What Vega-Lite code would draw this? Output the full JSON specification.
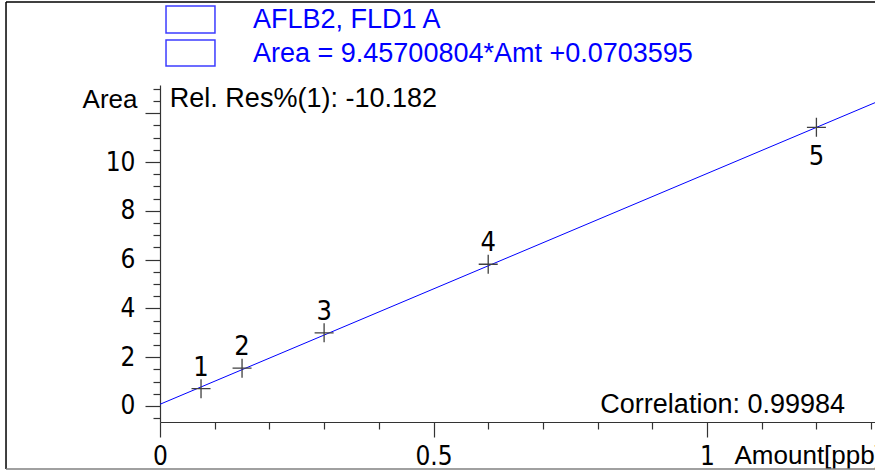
{
  "$schema": "https://vega.github.io/schema/vega-lite/v6.json",
  "width": 715,
  "height": 337,
  "autosize": {"type": "none"},
  "padding": {"left": 160, "top": 85, "right": 0, "bottom": 50},
  "background": "white",
  "config": {"view": {"stroke": null}, "font": "Liberation Sans"},
  "resolve": {"axis": {"x": "independent", "y": "independent"}},
  "datasets": {
    "points": [
      {"amt": 0.075, "area": 0.71, "label": "1"},
      {"amt": 0.15, "area": 1.55, "label": "2"},
      {"amt": 0.3, "area": 3.0, "label": "3"},
      {"amt": 0.6, "area": 5.81, "label": "4"},
      {"amt": 1.2, "area": 11.42, "label": "5"}
    ],
    "fit": [
      {"amt": 0, "area": 0.0703595},
      {"amt": 1.3071, "area": 12.4317}
    ]
  },
  "layer": [
    {
      "data": {"name": "fit"},
      "mark": {"type": "line", "color": "#0000ff", "strokeWidth": 1, "clip": true},
      "encoding": {
        "x": {
          "field": "amt", "type": "quantitative",
          "scale": {"domain": [0, 1.3071], "nice": false, "zero": false},
          "axis": {
            "orient": "bottom",
            "values": [0, 0.5, 1],
            "format": "~g",
            "grid": false,
            "domainColor": "#333333", "domainWidth": 1.2,
            "tickColor": "#333333", "tickWidth": 1.2, "tickSize": 15,
            "labelFont": "DejaVu Sans Condensed, DejaVu Sans",
            "labelFontSize": 26, "labelColor": "black",
            "labelPadding": 6, "labelFlush": false, "labelOverlap": false,
            "title": "Amount[ppb]", "titleFont": "Liberation Sans", "titleFontSize": 26,
            "titleFontWeight": "normal", "titleColor": "black",
            "titleX": 574, "titleY": 41, "titleAlign": "left", "titleBaseline": "alphabetic", "titleAnchor": null
          }
        },
        "y": {
          "field": "area", "type": "quantitative",
          "scale": {"domain": [-0.656, 13.156], "nice": false, "zero": false},
          "axis": {
            "orient": "left",
            "values": [0, 2, 4, 6, 8, 10, 12],
            "grid": false,
            "domainColor": "#333333", "domainWidth": 1.2,
            "tickColor": "#333333", "tickWidth": 1.2, "tickSize": 15,
            "labelExpr": "datum.value <= 10 ? datum.label : ''",
            "labelFont": "DejaVu Sans Condensed, DejaVu Sans",
            "labelFontSize": 26, "labelColor": "black",
            "labelPadding": 10, "labelFlush": false, "labelOverlap": false,
            "title": "Area", "titleFont": "Liberation Sans", "titleFontSize": 26,
            "titleFontWeight": "normal", "titleColor": "black", "titleAngle": 0,
            "titleX": -23, "titleY": 22, "titleAlign": "right", "titleBaseline": "alphabetic", "titleAnchor": null
          }
        }
      }
    },
    {
      "data": {"name": "points"},
      "mark": {"type": "point", "shape": "M-1,0L1,0M0,-1L0,1", "size": 361, "filled": false, "stroke": "#404040", "strokeWidth": 1.3, "opacity": 1},
      "encoding": {
        "x": {
          "field": "amt", "type": "quantitative",
          "axis": {
            "orient": "bottom",
            "values": [0.1, 0.2, 0.3, 0.4, 0.6, 0.7, 0.8, 0.9, 1.1, 1.2, 1.3],
            "grid": false, "domain": false, "labels": false, "title": null,
            "tickColor": "#333333", "tickWidth": 1.2, "tickSize": 7
          }
        },
        "y": {
          "field": "area", "type": "quantitative",
          "axis": {
            "orient": "left",
            "values": [-0.5, 0.5, 1, 1.5, 2.5, 3, 3.5, 4.5, 5, 5.5, 6.5, 7, 7.5, 8.5, 9, 9.5, 10.5, 11, 11.5, 12.5, 13],
            "grid": false, "domain": false, "labels": false, "title": null,
            "tickColor": "#333333", "tickWidth": 1.2, "tickSize": 7
          }
        }
      }
    },
    {
      "data": {"name": "points"},
      "transform": [{"filter": "datum.label != '5'"}],
      "mark": {"type": "text", "font": "DejaVu Sans Condensed, DejaVu Sans", "fontSize": 27, "color": "black", "align": "center", "baseline": "alphabetic", "dy": -13},
      "encoding": {
        "x": {"field": "amt", "type": "quantitative", "axis": null},
        "y": {"field": "area", "type": "quantitative", "axis": null},
        "text": {"field": "label"}
      }
    },
    {
      "data": {"name": "points"},
      "transform": [{"filter": "datum.label == '5'"}],
      "mark": {"type": "text", "font": "DejaVu Sans Condensed, DejaVu Sans", "fontSize": 27, "color": "black", "align": "center", "baseline": "alphabetic", "dy": 38},
      "encoding": {
        "x": {"field": "amt", "type": "quantitative", "axis": null},
        "y": {"field": "area", "type": "quantitative", "axis": null},
        "text": {"field": "label"}
      }
    },
    {
      "data": {"values": [{}]},
      "mark": {"type": "text", "fontSize": 27, "color": "black", "align": "left", "baseline": "alphabetic"},
      "encoding": {
        "x": {"datum": 0.018, "type": "quantitative", "axis": null},
        "y": {"datum": 12.24, "type": "quantitative", "axis": null},
        "text": {"value": "Rel. Res%(1): -10.182"}
      }
    },
    {
      "data": {"values": [{}]},
      "mark": {"type": "text", "fontSize": 27, "color": "black", "align": "right", "baseline": "alphabetic"},
      "encoding": {
        "x": {"datum": 1.2523, "type": "quantitative", "axis": null},
        "y": {"datum": -0.3, "type": "quantitative", "axis": null},
        "text": {"value": "Correlation: 0.99984"}
      }
    },
    {
      "data": {"values": [{}]},
      "mark": {"type": "text", "fontSize": 27, "color": "#0000ff", "align": "left", "baseline": "alphabetic"},
      "encoding": {
        "x": {"datum": 0.17, "type": "quantitative", "axis": null},
        "y": {"datum": 15.48, "type": "quantitative", "axis": null},
        "text": {"value": "AFLB2, FLD1 A"}
      }
    },
    {
      "data": {"values": [{}]},
      "mark": {"type": "text", "fontSize": 27, "color": "#0000ff", "align": "left", "baseline": "alphabetic"},
      "encoding": {
        "x": {"datum": 0.17, "type": "quantitative", "axis": null},
        "y": {"datum": 14.11, "type": "quantitative", "axis": null},
        "text": {"value": "Area = 9.45700804*Amt +0.0703595"}
      }
    },
    {
      "data": {"values": [{}]},
      "mark": {"type": "rect", "fill": null, "fillOpacity": 0, "stroke": "#3c3cff", "strokeWidth": 1.5, "clip": false},
      "encoding": {
        "x": {"datum": 0.011, "type": "quantitative", "axis": null},
        "x2": {"datum": 0.1005},
        "y": {"datum": 16.39, "type": "quantitative", "axis": null},
        "y2": {"datum": 15.29}
      }
    },
    {
      "data": {"values": [{}]},
      "mark": {"type": "rect", "fill": null, "fillOpacity": 0, "stroke": "#3c3cff", "strokeWidth": 1.5, "clip": false},
      "encoding": {
        "x": {"datum": 0.011, "type": "quantitative", "axis": null},
        "x2": {"datum": 0.1005},
        "y": {"datum": 15.0, "type": "quantitative", "axis": null},
        "y2": {"datum": 13.93}
      }
    },
    {
      "data": {"values": [{}]},
      "mark": {"type": "rule", "color": "black", "strokeWidth": 1.5, "clip": false},
      "encoding": {
        "x": {"datum": -0.2815, "type": "quantitative", "axis": null},
        "y": {"datum": 16.557, "type": "quantitative", "axis": null},
        "y2": {"datum": -2.582}
      }
    },
    {
      "data": {"values": [{}]},
      "mark": {"type": "rule", "color": "black", "strokeWidth": 1.5, "clip": false},
      "encoding": {
        "x": {"datum": -0.2815, "type": "quantitative", "axis": null},
        "x2": {"datum": 1.4},
        "y": {"datum": 16.557, "type": "quantitative", "axis": null}
      }
    },
    {
      "data": {"values": [{}]},
      "mark": {"type": "rule", "color": "#808080", "strokeWidth": 1.5, "clip": false},
      "encoding": {
        "x": {"datum": -0.2815, "type": "quantitative", "axis": null},
        "x2": {"datum": 1.4},
        "y": {"datum": -2.582, "type": "quantitative", "axis": null}
      }
    }
  ]
}
